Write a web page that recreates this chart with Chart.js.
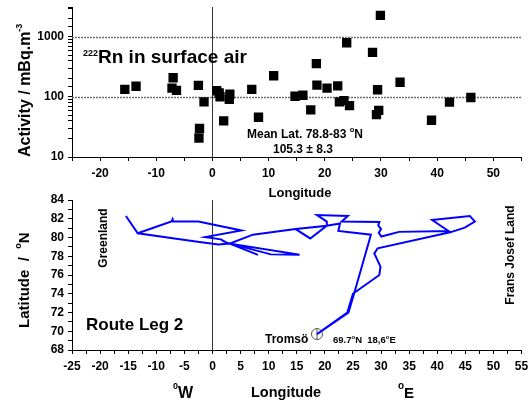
<!DOCTYPE html>
<html>
<head>
<meta charset="utf-8">
<script src="https://cdn.jsdelivr.net/npm/chart.js@4"></script>
<style>
  html, body { margin: 0; padding: 0; background: #fff; }
  #wrap { position: relative; width: 528px; height: 401px; overflow: hidden; }
  canvas { position: absolute; left: 0; }
  #rnChart { top: 0; width: 528px; height: 200px; }
  #routeChart { top: 190px; width: 528px; height: 211px; }
</style>
</head>
<body>
<div id="wrap">
  <canvas id="rnChart" width="528" height="200"></canvas>
  <canvas id="routeChart" width="528" height="211"></canvas>
</div>
<script>
// 222Rn activity against longitude
const rnLongitude = [-15.6, -13.6, -7.0, -7.2, -6.4, -2.5, -1.5, -2.3, -2.4, 0.75,
  1.2, 1.35, 2.0, 3.1, 3.0, 7.0, 8.2, 10.9, 14.7, 16.1,
  17.5, 18.5, 18.6, 20.4, 22.3, 22.6, 23.4, 24.4, 23.9, 28.5,
  29.9, 29.4, 29.6, 29.2, 33.4, 39.0, 42.2, 46.0];
const rnActivity = [134, 151, 209, 141, 129, 156, 83, 30, 20.7, 127,
  117, 101, 40, 112, 91.5, 134, 46, 226, 103, 107,
  61, 359, 158, 141, 153, 83, 87, 72, 803, 556,
  2298, 132, 60, 51, 176, 41, 82, 98];
const rnRefLines = [100, 1000];

// ship track, leg 2 (Tromsö and back)
const routeLon = [18.6, 24.0, 25.0, 29.7, 29.9, 28.8, 29.4, 42.3, 44.9, 46.7,
  45.8, 39.1, 42.0, 33.2, 30.05, 29.6, 30.0, 29.5, 29.7, 23.0,
  24.1, 18.6, 20.35, 20.35, 14.8, 7.2, 3.1, 8.1, 3.1, 15.5,
  10.4, 2.5, 1.5, -1.3, 5.15, -2.5, -7.0, -7.1, -7.3, -13.3,
  -15.4, -13.3, -3.3, 1.05, 3.1, 7.2, 14.8, 17.4, 20.35, 22.7,
  22.4, 28.2, 25.2, 24.2, 18.6];
const routeLat = [69.7, 72.0, 74.0, 76.0, 76.9, 78.3, 78.85, 80.55, 81.05, 81.7,
  82.3, 81.87, 80.7, 80.6, 80.1, 80.5, 80.9, 81.3, 81.65, 81.7,
  82.3, 82.4, 81.7, 81.25, 80.9, 80.3, 79.35, 78.15, 79.35, 78.15,
  78.2, 79.45, 79.8, 80.05, 80.75, 81.7, 81.7, 81.95, 81.7, 80.45,
  82.3, 80.45, 79.6, 79.25, 79.35, 80.3, 80.9, 79.9, 81.25, 81.5,
  80.7, 80.3, 74.0, 72.0, 69.7];
const tromsoLon = [18.6];
const tromsoLat = [69.7];

const FONT = '"Liberation Sans", Arial, sans-serif';
const tickFont = { family: FONT, size: 12, weight: 'bold' };

// draw a run of text pieces [text, size, rise] starting at x
function drawRuns(ctx, parts, x, y) {
  parts.forEach(([t, size, rise]) => {
    ctx.font = `bold ${size}px ${FONT}`;
    ctx.fillText(t, x, y - (rise || 0));
    x += ctx.measureText(t).width;
  });
}
function runsWidth(ctx, parts) {
  let w = 0;
  parts.forEach(([t, size]) => { ctx.font = `bold ${size}px ${FONT}`; w += ctx.measureText(t).width; });
  return w;
}
// vertical text reading bottom-to-top, baseline on the right
function drawUp(ctx, parts, x, y, centered) {
  ctx.save();
  ctx.translate(x, y);
  ctx.rotate(-Math.PI / 2);
  drawRuns(ctx, parts, centered ? -runsWidth(ctx, parts) / 2 : 0, 0);
  ctx.restore();
}

function zeroLine(chart) {
  const { ctx, chartArea: a, scales: { x } } = chart;
  const px = Math.round(x.getPixelForValue(0)) + 0.5;
  ctx.save();
  ctx.strokeStyle = '#333';
  ctx.lineWidth = 1;
  ctx.beginPath(); ctx.moveTo(px, a.top); ctx.lineTo(px, a.bottom); ctx.stroke();
  ctx.restore();
}

function noPad(s) { s.paddingLeft = 0; s.paddingRight = 0; s.paddingTop = 0; s.paddingBottom = 0; }

const rnOverlay = {
  id: 'rnOverlay',
  beforeDatasetsDraw(chart) {
    const { ctx, chartArea: a, scales: { y } } = chart;
    ctx.save();
    ctx.strokeStyle = '#6e6e6e';
    ctx.lineWidth = 1.4;
    ctx.setLineDash([2, 1]);
    rnRefLines.forEach(v => {
      const py = Math.round(y.getPixelForValue(v)) + 0.5;
      ctx.beginPath(); ctx.moveTo(a.left, py); ctx.lineTo(a.right, py); ctx.stroke();
    });
    ctx.restore();
    zeroLine(chart);
  },
  afterDraw(chart) {
    const ctx = chart.ctx;
    ctx.save();
    ctx.fillStyle = '#000';
    drawRuns(ctx, [['222', 9, 7], ['Rn in surface air', 19]], 83, 63);
    drawRuns(ctx, [['Mean Lat. 78.8-83 ', 12], ['o', 7.5, 6], ['N', 12]], 247, 138);
    drawRuns(ctx, [['105.3 \u00b1 8.3', 12]], 273, 153);
    const w = runsWidth(ctx, [['Longitude', 13]]);
    drawRuns(ctx, [['Longitude', 13]], 300 - w / 2, 197);
    drawUp(ctx, [['Activity / mBq.m', 16], ['-3', 9, 8]], 30, 157, false);
    ctx.restore();
  }
};

const routeOverlay = {
  id: 'routeOverlay',
  beforeDatasetsDraw(chart) { zeroLine(chart); },
  afterDraw(chart) {
    const ctx = chart.ctx;
    const oy = -190; // canvas sits 190px down the page
    ctx.save();
    ctx.fillStyle = '#000';
    drawUp(ctx, [['Latitude  /  ', 15], ['o', 9, 8], ['N', 15]], 29, 328 + oy, false);
    drawUp(ctx, [['Greenland', 12]], 106.5, 238 + oy, true);
    drawUp(ctx, [['Frans Josef Land', 12]], 514, 255 + oy, true);
    drawRuns(ctx, [['Route Leg 2', 17]], 86, 330 + oy);
    drawRuns(ctx, [['Troms\u00f6', 12]], 265, 343 + oy);
    drawRuns(ctx, [['69.7', 9.5], ['o', 6, 4], ['N  18,6', 9.5], ['o', 6, 4], ['E', 9.5]], 333, 343 + oy);
    drawRuns(ctx, [['0', 9, 9], ['W', 16]], 173, 398 + oy);
    drawRuns(ctx, [['Longitude', 14.5]], 251, 397 + oy);
    drawRuns(ctx, [['o', 10, 9], ['E', 15]], 398, 398 + oy);
    ctx.restore();
  }
};

const axisCommon = {
  grid: { drawOnChartArea: false, tickLength: 4, color: '#000', tickColor: '#000' },
  border: { color: '#000', width: 1 }
};

new Chart(document.getElementById('rnChart'), {
  type: 'scatter',
  data: {
    datasets: [{
      data: rnLongitude.map((x, i) => ({ x, y: rnActivity[i] })),
      pointStyle: 'rect',
      pointRadius: 6.6,
      backgroundColor: '#000',
      borderColor: '#000',
      borderWidth: 0
    }]
  },
  options: {
    responsive: false,
    animation: false,
    events: [],
    layout: { padding: { top: 7, left: 0, right: 0, bottom: 0 } },
    plugins: { legend: { display: false }, tooltip: { enabled: false } },
    scales: {
      x: {
        type: 'linear', min: -25, max: 55,
        ...axisCommon,
        ticks: {
          stepSize: 5, autoSkip: false, maxRotation: 0, padding: 5, color: '#000', font: tickFont,
          callback: v => (v % 10 === 0 ? String(v) : '')
        },
        afterFit: s => { s.height = 43; noPad(s); }
      },
      y: {
        type: 'logarithmic', min: 10, max: 3162,
        ...axisCommon,
        ticks: {
          autoSkip: false, padding: 4, color: '#000', font: tickFont,
          callback: v => {
            const lg = Math.log10(v);
            return Math.abs(lg - Math.round(lg)) < 1e-6 ? String(Math.round(v)) : '';
          }
        },
        afterFit: s => { s.width = 72; noPad(s); }
      }
    }
  },
  plugins: [rnOverlay]
});

new Chart(document.getElementById('routeChart'), {
  type: 'scatter',
  data: {
    datasets: [{
      data: routeLon.map((x, i) => ({ x, y: routeLat[i] })),
      showLine: true,
      borderColor: '#0000ff',
      borderWidth: 2,
      pointRadius: 0,
      tension: 0
    }, {
      data: tromsoLon.map((x, i) => ({ x, y: tromsoLat[i] })),
      pointStyle: 'circle',
      pointRadius: 5.5,
      borderColor: '#555',
      borderWidth: 1,
      backgroundColor: 'rgba(255,255,255,0)'
    }, {
      data: tromsoLon.map((x, i) => ({ x, y: tromsoLat[i] })),
      pointStyle: 'line',
      rotation: 90,
      pointRadius: 5.5,
      borderColor: '#555',
      borderWidth: 1
    }]
  },
  options: {
    responsive: false,
    animation: false,
    events: [],
    layout: { padding: { top: 10, left: 0, right: 0, bottom: 0 } },
    plugins: { legend: { display: false }, tooltip: { enabled: false } },
    scales: {
      x: {
        type: 'linear', min: -25, max: 55,
        ...axisCommon,
        ticks: {
          stepSize: 2.5, autoSkip: false, maxRotation: 0, padding: 5, color: '#000', font: tickFont,
          callback: v => (v % 5 === 0 ? String(v) : '')
        },
        afterFit: s => { s.height = 51; noPad(s); }
      },
      y: {
        type: 'linear', min: 68, max: 84,
        ...axisCommon,
        ticks: {
          stepSize: 1, autoSkip: false, padding: 4, color: '#000', font: tickFont,
          callback: v => (v % 2 === 0 ? String(v) : '')
        },
        afterFit: s => { s.width = 72; noPad(s); }
      }
    }
  },
  plugins: [routeOverlay]
});
</script>
</body>
</html>
